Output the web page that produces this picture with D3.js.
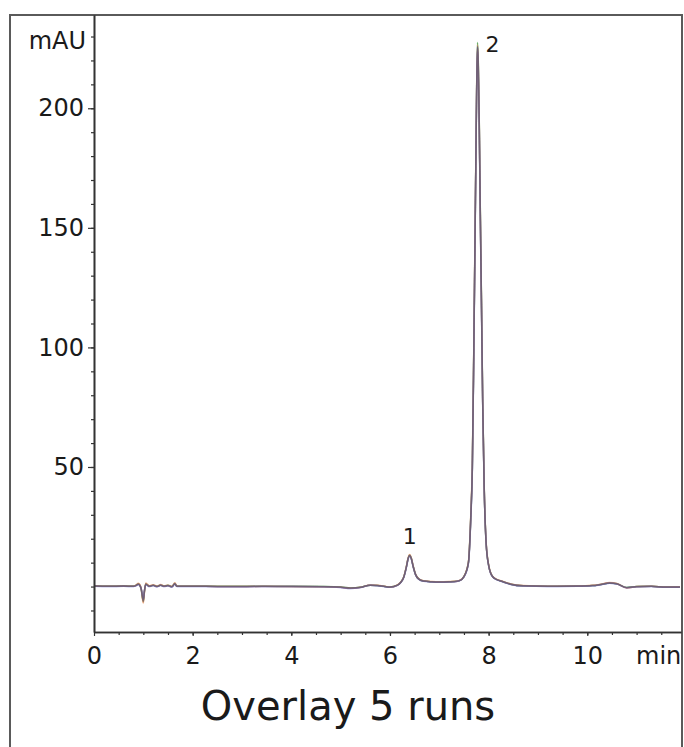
<!DOCTYPE html>
<html>
<head>
<meta charset="utf-8">
<script src="https://cdn.jsdelivr.net/npm/d3@7"></script>
<style>
  body { margin: 0; background: #fff; }
  text { font-family: "DejaVu Sans", Verdana, sans-serif; fill: #1a1a1a; }
</style>
</head>
<body>
<div id="plot"></div>
<script>
// retention time (min), shared by all runs
var times = [
  0, 0.3, 0.6, 0.8, 0.85, 0.9, 0.93, 0.96, 0.98, 1.0,
  1.02, 1.05, 1.08, 1.12, 1.2, 1.28, 1.35, 1.42, 1.5, 1.58,
  1.64, 1.67, 1.7, 1.8, 2.2, 2.8, 3.4, 4.0, 4.6, 5.0,
  5.2, 5.4, 5.6, 5.75, 5.9, 6.0, 6.15, 6.22, 6.28, 6.33,
  6.37, 6.40, 6.43, 6.47, 6.52, 6.58, 6.68, 6.85, 7.0, 7.2,
  7.3, 7.41, 7.5, 7.59, 7.64, 7.67, 7.70, 7.72, 7.74, 7.76,
  7.775, 7.79, 7.81, 7.83, 7.855, 7.88, 7.91, 7.95, 8.0, 8.08,
  8.18, 8.28, 8.45, 8.7, 9.2, 9.8, 10.1, 10.3, 10.45, 10.6,
  10.8, 11.0, 11.3, 11.6, 11.88
];

// absorbance (mAU) of each run
var runBlue = [
  0.1, 0.0, 0.1, 0.0, 0.3, 0.9, 0.3, -1.0, -3.5, -5.2,
  -2.0, 0.9, 0.5, 0.0, 0.4, -0.1, 0.5, 0.0, 0.3, -0.2,
  1.1, 0.2, 0.0, 0.0, 0.0, -0.1, 0.0, 0.0, -0.1, -0.4,
  -0.8, -0.4, 0.5, 0.3, -0.1, -0.3, 0.5, 1.7, 3.8, 7.7,
  11.6, 12.8, 11.7, 8.3, 4.9, 3.1, 2.2, 1.9, 1.8, 1.9,
  2.0, 2.4, 4.0, 9.6, 29, 49, 98, 136, 175, 212,
  225.5, 217, 192, 157, 117, 76, 41, 18, 8.8, 4.1,
  2.7, 2.0, 0.9, 0.2, 0.0, 0.1, 0.3, 0.9, 1.4, 1.1,
  -0.5, -0.1, 0.0, -0.3, -0.3
];
var runOrange = [
  0.2, 0.1, 0.2, 0.1, 0.6, 1.4, 0.8, -1.2, -4.8, -6.9,
  -3.0, 1.5, 1.0, 0.3, 0.8, 0.2, 0.9, 0.3, 0.6, 0.1,
  1.6, 0.5, 0.1, 0.1, 0.1, 0.0, 0.1, 0.0, -0.1, -0.3,
  -0.7, -0.3, 0.7, 0.5, 0.1, -0.2, 0.7, 1.9, 4.1, 8.2,
  12.2, 13.4, 12.2, 8.7, 5.1, 3.3, 2.4, 2.1, 2.0, 2.1,
  2.2, 2.6, 4.3, 10.3, 31, 52, 101, 139, 177, 214,
  226.5, 219, 194, 159, 119, 77, 42, 18.5, 9.2, 4.3,
  2.9, 2.2, 1.1, 0.4, 0.1, 0.2, 0.5, 1.1, 1.7, 1.3,
  -0.6, 0.0, 0.1, -0.2, -0.1
];
var runMauve = [
  0.2, 0.1, 0.2, 0.1, 0.4, 1.0, 0.5, -1.3, -4.0, -5.8,
  -2.2, 1.0, 0.7, 0.1, 0.5, 0.0, 0.6, 0.1, 0.4, -0.1,
  1.3, 0.3, 0.1, 0.1, 0.1, 0.0, 0.0, 0.0, -0.1, -0.3,
  -0.7, -0.4, 0.6, 0.4, 0.0, -0.3, 0.5, 1.8, 3.9, 7.9,
  11.8, 13.0, 11.9, 8.4, 5.0, 3.2, 2.3, 2.0, 1.9, 2.0,
  2.0, 2.5, 4.1, 9.8, 29.5, 49.5, 99, 137, 175, 211,
  224.8, 218, 193, 158, 118, 77, 41.5, 17.8, 8.9, 4.1,
  2.8, 2.1, 1.0, 0.3, 0.1, 0.2, 0.4, 1.0, 1.6, 1.2,
  -0.5, -0.1, 0.1, -0.2, -0.2
];
var runGrey = [
  0.2, 0.1, 0.2, 0.1, 0.5, 1.1, 0.4, -1.4, -4.2, -6.3,
  -2.4, 1.1, 0.6, 0.2, 0.5, 0.1, 0.6, 0.2, 0.4, 0.0,
  1.2, 0.3, 0.1, 0.1, 0.1, 0.0, 0.1, 0.0, 0.0, -0.2,
  -0.6, -0.3, 0.6, 0.4, 0.0, -0.2, 0.6, 1.8, 4.0, 8.0,
  11.9, 13.1, 11.9, 8.5, 5.0, 3.2, 2.3, 2.0, 1.9, 2.0,
  2.1, 2.5, 4.2, 10, 30, 50, 100, 137, 176, 212,
  226.0, 219, 194, 159, 119, 77, 42, 18, 9, 4.2,
  2.8, 2.1, 1.0, 0.3, 0.1, 0.2, 0.4, 1.0, 1.5, 1.2,
  -0.4, 0.0, 0.1, -0.2, -0.2
];
var runGreen = [
  0.3, 0.2, 0.3, 0.2, 0.5, 1.2, 0.6, -1.5, -4.5, -6.0,
  -2.5, 1.2, 0.8, 0.2, 0.6, 0.1, 0.7, 0.2, 0.5, 0.0,
  1.4, 0.4, 0.2, 0.2, 0.2, 0.1, 0.1, 0.1, 0.0, -0.2,
  -0.6, -0.3, 0.6, 0.4, 0.0, -0.2, 0.6, 1.8, 4.0, 8.0,
  12.0, 13.2, 12.0, 8.5, 5.0, 3.2, 2.3, 2.0, 1.9, 2.0,
  2.1, 2.5, 4.2, 10, 30, 50, 100, 138, 176, 213,
  227.5, 220, 195, 160, 120, 78, 42, 18, 9, 4.2,
  2.8, 2.1, 1.0, 0.3, 0.1, 0.2, 0.4, 1.0, 1.5, 1.2,
  -0.4, 0.0, 0.1, -0.2, -0.2
];

// drawing order: green under, grey on top
var runs = [runGreen, runOrange, runBlue, runMauve, runGrey];
var runColors = ["#62ad62", "#ee9a66", "#5a5ad2", "#9a6f8f", "#555555"];
var runOpacity = [0.95, 0.8, 0.75, 0.7, 0.55];

var peakNames = ["1", "2"];
var peakTimes = [6.40, 7.775];
var peakHeights = [13.4, 227.5];

var yLabelTicks = [50, 100, 150, 200];
var xLabelTicks = [0, 2, 4, 6, 8, 10];

var W = 684, H = 747;
var margin = {top: 15, right: 681, bottom: 632, left: 94};

var svg = d3.select("#plot").append("svg")
    .attr("width", W)
    .attr("height", H);

var x = d3.scaleLinear().domain([0, 11.9]).range([margin.left, margin.right]);
var y = d3.scaleLinear().domain([-19, 239]).range([margin.bottom, margin.top]);

// outer frame (bottom edge is off the picture)
svg.append("path")
    .attr("d", "M10," + (H + 5) + "V15H682V" + (H + 5))
    .attr("fill", "none")
    .attr("stroke", "#5a5a5a")
    .attr("stroke-width", 2);

// traces
var line = d3.line()
    .x(function(d, i) { return x(times[i]); })
    .y(function(d) { return y(d); })
    .curve(d3.curveMonotoneX);

svg.selectAll(".run")
    .data(runs)
    .enter().append("path")
    .attr("class", "run")
    .attr("d", line)
    .attr("fill", "none")
    .attr("stroke", function(d, i) { return runColors[i]; })
    .attr("stroke-width", 1.5)
    .attr("stroke-opacity", function(d, i) { return runOpacity[i]; });

// y axis: minor ticks every 10, labelled every 50
svg.append("g")
    .attr("transform", "translate(" + margin.left + ",0)")
    .call(d3.axisLeft(y).tickValues(d3.range(-10, 231, 10)).tickSize(3).tickSizeOuter(0).tickFormat(""));

var yMajor = svg.append("g")
    .attr("transform", "translate(" + margin.left + ",0)")
    .call(d3.axisLeft(y).tickValues(yLabelTicks).tickSize(6).tickSizeOuter(0).tickPadding(4));

yMajor.selectAll("text").style("font-size", "24px").attr("fill", "#1a1a1a");

svg.append("text")
    .attr("x", margin.left - 8)
    .attr("y", y(230) + 12)
    .attr("text-anchor", "end")
    .style("font-size", "24px")
    .text("mAU");

// x axis
svg.append("g")
    .attr("transform", "translate(0," + margin.bottom + ")")
    .call(d3.axisBottom(x).tickValues(d3.range(0.5, 11.9, 0.5)).tickSize(3).tickSizeOuter(0).tickFormat(""));

var xMajor = svg.append("g")
    .attr("transform", "translate(0," + margin.bottom + ")")
    .call(d3.axisBottom(x).tickValues(xLabelTicks).tickSize(4).tickSizeOuter(0).tickPadding(11));

xMajor.selectAll("text").style("font-size", "24px").attr("fill", "#1a1a1a");

svg.append("text")
    .attr("x", 636)
    .attr("y", 664)
    .style("font-size", "24px")
    .text("min");

svg.selectAll(".domain").attr("stroke", "#333").attr("stroke-width", 1.6);
svg.selectAll(".tick line").attr("stroke", "#333").attr("stroke-width", 1.2);

// peak labels
svg.selectAll(".peak")
    .data(peakNames)
    .enter().append("text")
    .attr("class", "peak")
    .attr("x", function(d, i) { return x(peakTimes[i]) + (i === 1 ? 15 : 0); })
    .attr("y", function(d, i) { return y(peakHeights[i]) - (i === 1 ? -9 : 11); })
    .attr("text-anchor", "middle")
    .style("font-size", "22px")
    .text(function(d) { return d; });

// caption
svg.append("text")
    .attr("x", 348)
    .attr("y", 720)
    .attr("text-anchor", "middle")
    .style("font-size", "40px")
    .text("Overlay 5 runs");
</script>
</body>
</html>
